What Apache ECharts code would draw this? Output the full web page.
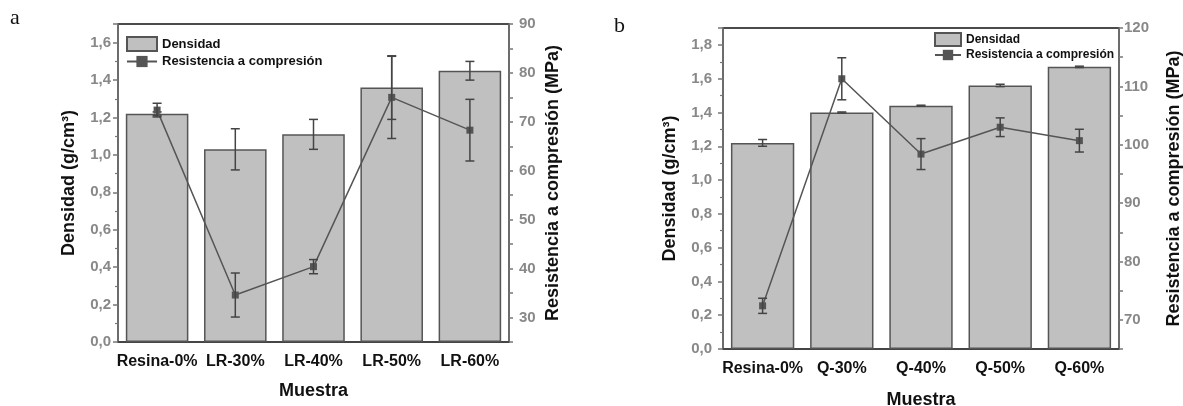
<!DOCTYPE html>
<html>
<head>
<meta charset="utf-8">
<title>Densidad y resistencia a compresión</title>
<script src="https://cdn.jsdelivr.net/npm/echarts@6/dist/echarts.min.js"></script>
<style>
  html, body { margin: 0; padding: 0; background: #fff; }
  #chart { width: 1183px; height: 406px; }
</style>
</head>
<body>
<div id="chart"></div>
<script>
// muestras
var categoriasA = ['Resina-0%', 'LR-30%', 'LR-40%', 'LR-50%', 'LR-60%'];
var categoriasB = ['Resina-0%', 'Q-30%', 'Q-40%', 'Q-50%', 'Q-60%'];

// densidad (g/cm3) y desviacion
var densidadA = [1.22, 1.03, 1.11, 1.36, 1.45];
var densidadErrA = [0.01, 0.11, 0.08, 0.17, 0.05];
var densidadB = [1.22, 1.40, 1.44, 1.56, 1.67];
var densidadErrB = [0.02, 0.003, 0.003, 0.007, 0.004];

// resistencia a compresion (MPa) y desviacion
var resistenciaA = [72.4, 34.6, 40.4, 75.0, 68.3];
var resistenciaErrA = [1.4, 4.5, 1.45, 8.4, 6.3];
var resistenciaB = [72.4, 111.3, 98.4, 103.0, 100.7];
var resistenciaErrB = [1.3, 3.6, 2.65, 1.6, 1.95];

var fuente = '"Liberation Sans", Arial, sans-serif';

function barrasError(valores, errores) {
    return valores.map(function(v, i) {
        return [i, v - errores[i], v + errores[i]];
    });
}

function dibujaError(params, api) {
    var i = api.value(0);
    var arriba = api.coord([i, api.value(2)]);
    var abajo = api.coord([i, api.value(1)]);
    var w = 4.5;
    var st = { stroke: '#444', lineWidth: 1.5, fill: null };
    return {
        type: 'group',
        children: [
            { type: 'line', shape: { x1: arriba[0], y1: arriba[1], x2: abajo[0], y2: abajo[1] }, style: st },
            { type: 'line', shape: { x1: arriba[0] - w, y1: arriba[1], x2: arriba[0] + w, y2: arriba[1] }, style: st },
            { type: 'line', shape: { x1: abajo[0] - w, y1: abajo[1], x2: abajo[0] + w, y2: abajo[1] }, style: st }
        ]
    };
}

function ejeX(grid, cats, nameGap) {
    return [{
        type: 'category', gridIndex: grid, data: cats, position: 'bottom',
        axisLine: { lineStyle: { color: '#444', width: 1.5 } },
        axisTick: { alignWithLabel: true, length: 5, lineStyle: { color: '#444', width: 1.5 } },
        axisLabel: { interval: 0, color: '#111', fontSize: 16, fontWeight: 'bold', fontFamily: fuente, margin: 12 },
        name: 'Muestra', nameLocation: 'middle', nameGap: nameGap,
        nameTextStyle: { color: '#111', fontSize: 18, fontWeight: 'bold', fontFamily: fuente }
    }, {
        // marcas cortas entre categorias
        type: 'category', gridIndex: grid, data: cats, position: 'bottom',
        axisLine: { show: false },
        axisTick: { interval: 0, length: 3, lineStyle: { color: '#444', width: 1.5 } },
        axisLabel: { show: false }
    }];
}

function ejeDensidad(grid, max, margin, nameGap) {
    return {
        type: 'value', gridIndex: grid, position: 'left', min: 0, max: max, interval: 0.2,
        splitLine: { show: false },
        axisLine: { show: true, lineStyle: { color: '#777', width: 1.5 } },
        axisTick: { show: true, length: 5, lineStyle: { color: '#777', width: 1.5 } },
        minorTick: { show: true, splitNumber: 2, length: 3, lineStyle: { color: '#777', width: 1.2 } },
        axisLabel: {
            color: '#888', fontSize: 15, fontWeight: 'bold', fontFamily: fuente, margin: margin,
            formatter: function(v) {
                return Math.round(v * 10) % 2 === 0 ? v.toFixed(1).replace('.', ',') : '';
            }
        },
        name: 'Densidad (g/cm³)', nameLocation: 'middle', nameRotate: 90, nameGap: nameGap,
        nameTextStyle: { color: '#111', fontSize: 18, fontWeight: 'bold', fontFamily: fuente }
    };
}

function ejeResistencia(grid, min, max, margin, nameGap) {
    return {
        type: 'value', gridIndex: grid, position: 'right', min: min, max: max, interval: 5,
        splitLine: { show: false },
        axisLine: { show: true, lineStyle: { color: '#777', width: 1.5 } },
        axisTick: { show: true, length: 4, lineStyle: { color: '#777', width: 1.5 } },
        axisLabel: {
            color: '#888', fontSize: 15, fontWeight: 'bold', fontFamily: fuente, margin: margin,
            formatter: function(v) {
                return Math.round(v) % 10 === 0 ? String(Math.round(v)) : '';
            }
        },
        name: 'Resistencia a compresión (MPa)', nameLocation: 'middle', nameRotate: 90, nameGap: nameGap,
        nameTextStyle: { color: '#111', fontSize: 18, fontWeight: 'bold', fontFamily: fuente }
    };
}

function series(xIdx, yIdx, dens, densErr, res, resErr) {
    return [{
        type: 'bar', name: 'Densidad', xAxisIndex: xIdx, yAxisIndex: yIdx,
        data: dens, barWidth: '80%', z: 2,
        itemStyle: { color: '#c0c0c0', borderColor: '#555', borderWidth: 1.5 }
    }, {
        type: 'custom', xAxisIndex: xIdx, yAxisIndex: yIdx, z: 3,
        encode: { x: 0, y: [1, 2] },
        data: barrasError(dens, densErr), renderItem: dibujaError
    }, {
        type: 'line', name: 'Resistencia a compresión', xAxisIndex: xIdx, yAxisIndex: yIdx + 1,
        data: res, z: 4, symbol: 'rect', symbolSize: 7,
        itemStyle: { color: '#555' }, lineStyle: { color: '#555', width: 1.5 }
    }, {
        type: 'custom', xAxisIndex: xIdx, yAxisIndex: yIdx + 1, z: 5,
        encode: { x: 0, y: [1, 2] },
        data: barrasError(res, resErr), renderItem: dibujaError
    }];
}

var myChart = echarts.init(document.getElementById('chart'));

var option = {
    animation: false,
    backgroundColor: '#fff',
    graphic: [
        { type: 'text', left: 10, top: 7, style: { text: 'a', font: '22px "Liberation Serif", serif', fill: '#111' } },
        { type: 'text', left: 614, top: 15, style: { text: 'b', font: '22px "Liberation Serif", serif', fill: '#111' } }
    ],
    legend: [{
        left: 126, top: 36, padding: 0, orient: 'vertical', itemWidth: 30, itemHeight: 14, itemGap: 3,
        selectedMode: false,
        textStyle: { color: '#111', fontSize: 13, fontWeight: 'bold', fontFamily: fuente },
        data: [{ name: 'Densidad', icon: 'rect' }, 'Resistencia a compresión']
    }, {
        left: 934, top: 32, padding: 0, orient: 'vertical', itemWidth: 26, itemHeight: 13, itemGap: 2,
        selectedMode: false,
        textStyle: { color: '#111', fontSize: 12, fontWeight: 'bold', fontFamily: fuente },
        data: [{ name: 'Densidad', icon: 'rect' }, 'Resistencia a compresión']
    }],
    grid: [
        { left: 118, top: 24, width: 391, height: 318, outerBoundsMode: 'none', containLabel: false,
          show: true, borderColor: '#111', borderWidth: 1.5 },
        { left: 723, top: 28, width: 396, height: 321, outerBoundsMode: 'none', containLabel: false,
          show: true, borderColor: '#111', borderWidth: 1.5 }
    ],
    xAxis: ejeX(0, categoriasA, 40).concat(ejeX(1, categoriasB, 42)),
    yAxis: [
        ejeDensidad(0, 1.7, 7, 40),
        ejeResistencia(0, 25, 90, 10, 35),
        ejeDensidad(1, 1.9, 11, 44),
        ejeResistencia(1, 65, 120, 5, 46)
    ],
    series: series(0, 0, densidadA, densidadErrA, resistenciaA, resistenciaErrA)
        .concat(series(2, 2, densidadB, densidadErrB, resistenciaB, resistenciaErrB))
};

myChart.setOption(option);
</script>
</body>
</html>
